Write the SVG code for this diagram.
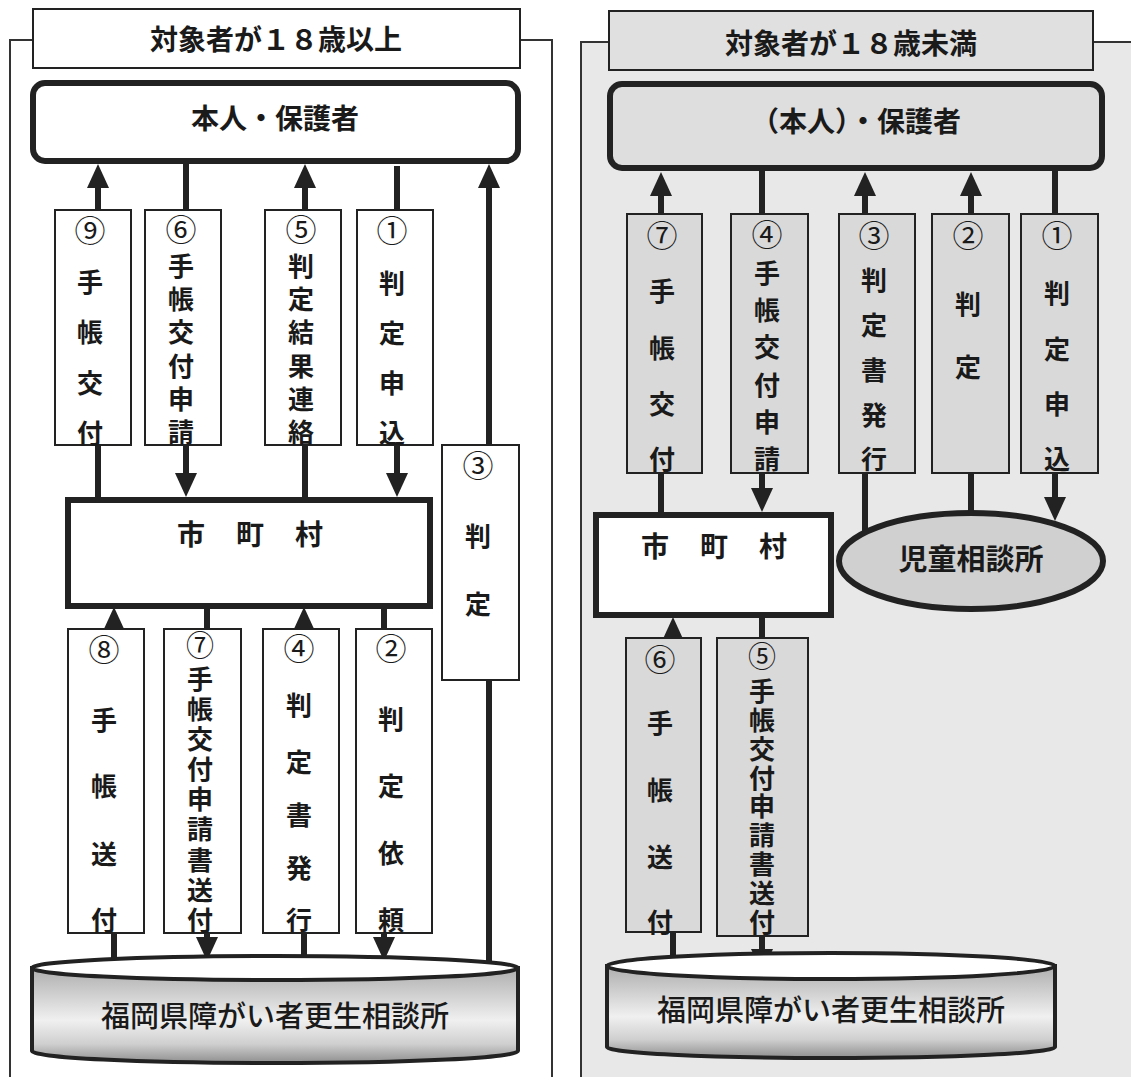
<svg xmlns="http://www.w3.org/2000/svg" width="1131" height="1077" viewBox="0 0 1131 1077">
<style>
.t{font-family:"Noto Sans CJK JP","Noto Sans CJK SC",sans-serif;font-weight:bold;fill:#1a1a1a;text-anchor:middle;dominant-baseline:central}
.bx{font-size:26px}
.cn{font-size:31px;font-weight:normal}
.cs{font-size:28px}
.big{font-size:28px}
.cyl{font-size:29px;font-weight:500}
.box{stroke:#222;stroke-width:2}
.lb{fill:#fff}
.rb{fill:#d9d9d9}
.main{stroke:#222;stroke-width:6}
.conn line{stroke:#222;stroke-width:6}
.frame{fill:none;stroke:#333;stroke-width:2}
</style>
<defs>
<marker id="ah" viewBox="0 0 24 22" refX="12" refY="11" markerWidth="24" markerHeight="22" markerUnits="userSpaceOnUse" orient="auto">
<path d="M0,0 L24,11 L0,22 z" fill="#222"/>
</marker>
<linearGradient id="cg" x1="0" y1="0" x2="0" y2="1">
<stop offset="0" stop-color="#aeaeae"/>
<stop offset="0.55" stop-color="#f0f0f0"/>
<stop offset="0.8" stop-color="#cfcfcf"/>
<stop offset="1" stop-color="#8e8e8e"/>
</linearGradient>
</defs>

<!-- backgrounds / frames -->
<rect x="0" y="0" width="1131" height="1077" fill="#fff"/>
<rect x="581" y="42" width="550" height="1035" fill="#e8e8e8"/>
<path class="frame" d="M33,40 H10 V1077 M520,40 H552 V1077"/>
<path class="frame" d="M609,42 H581 V1077 M1093,42 H1131"/>

<g id="title-left">
<rect x="33" y="9" width="487" height="59" fill="#fff" class="box"/>
<text class="t big" x="276" y="38">対象者が１８歳以上</text>
</g>
<g id="title-right">
<rect x="609" y="11" width="484" height="59" fill="#e0e0e0" class="box"/>
<text class="t big" x="851" y="42">対象者が１８歳未満</text>
</g>

<!-- connectors -->
<g id="connectors" class="conn">
<line x1="98" y1="497" x2="98" y2="176" marker-end="url(#ah)"/>
<line x1="186" y1="163" x2="186" y2="485" marker-end="url(#ah)"/>
<line x1="305" y1="497" x2="305" y2="176" marker-end="url(#ah)"/>
<line x1="397" y1="166" x2="397" y2="485" marker-end="url(#ah)"/>
<line x1="489" y1="963" x2="489" y2="176" marker-end="url(#ah)"/>
<line x1="114" y1="958" x2="114" y2="619" marker-end="url(#ah)"/>
<line x1="207" y1="607" x2="207" y2="949" marker-end="url(#ah)"/>
<line x1="304" y1="956" x2="304" y2="619" marker-end="url(#ah)"/>
<line x1="384" y1="607" x2="384" y2="949" marker-end="url(#ah)"/>

<line x1="661" y1="514" x2="661" y2="184" marker-end="url(#ah)"/>
<line x1="762" y1="170" x2="762" y2="500" marker-end="url(#ah)"/>
<line x1="865" y1="531" x2="865" y2="184" marker-end="url(#ah)"/>
<line x1="971" y1="511" x2="971" y2="184" marker-end="url(#ah)"/>
<line x1="1055" y1="170" x2="1055" y2="509" marker-end="url(#ah)"/>
<line x1="673" y1="958" x2="673" y2="629" marker-end="url(#ah)"/>
<line x1="762" y1="617" x2="762" y2="961" marker-end="url(#ah)"/>
</g>

<!-- left panel nodes -->
<g id="person-left">
<rect x="33" y="83" width="485" height="78" rx="12" fill="#fff" class="main"/>
<text class="t big" x="275" y="117">本人・保護者</text>
</g>
<g id="city-left">
<rect x="68" y="500" width="362" height="106" fill="#fff" class="main"/>
<text class="t big" x="191 250 309" y="533">市町村</text>
</g>
<g id="center-left">
<path d="M32,968 V1051 A243,12 0 0 0 518,1051 V968 Z" fill="url(#cg)" stroke="#222" stroke-width="4"/>
<ellipse cx="275" cy="968" rx="243" ry="12" fill="#fff" stroke="#222" stroke-width="4"/>
<text class="t cyl" x="275" y="1014">福岡県障がい者更生相談所</text>
</g>

<g id="L9"><rect x="55" y="210" width="76" height="235" class="box lb"/>
<text class="t bx" x="90 90 90 90 90" y="228 280 330 381 431"><tspan class="cn">⑨</tspan>手帳交付</text></g>
<g id="L6"><rect x="145" y="210" width="76" height="235" class="box lb"/>
<text class="t bx" x="181 181 181 181 181 181 181" y="227 264 297 330 364 397 430"><tspan class="cn">⑥</tspan>手帳交付申請</text></g>
<g id="L5"><rect x="265" y="210" width="76" height="235" class="box lb"/>
<text class="t bx" x="301 301 301 301 301 301 301" y="227 264 297 330 364 397 430"><tspan class="cn">⑤</tspan>判定結果連絡</text></g>
<g id="L1"><rect x="357" y="210" width="76" height="235" class="box lb"/>
<text class="t bx" x="392 392 392 392 392" y="228 281 331 381 431"><tspan class="cn">①</tspan>判定申込</text></g>
<g id="L3"><rect x="442" y="445" width="77" height="235" class="box lb"/>
<text class="t bx" x="478 478 478" y="463 534 602"><tspan class="cn">③</tspan>判定</text></g>

<g id="L8"><rect x="68" y="629" width="76" height="304" class="box lb"/>
<text class="t bx" x="104 104 104 104 104" y="647 718 784 852 918"><tspan class="cn">⑧</tspan>手帳送付</text></g>
<g id="L7"><rect x="164" y="629" width="77" height="304" class="box lb"/>
<text class="t bx" x="200 200 200 200 200 200 200 200 200 200" y="644 677 707 737 767 797 827 858 888 918"><tspan class="cn cs">⑦</tspan>手帳交付申請書送付</text></g>
<g id="L4"><rect x="263" y="629" width="76" height="304" class="box lb"/>
<text class="t bx" x="299 299 299 299 299 299" y="646 703 760 813 866 918"><tspan class="cn">④</tspan>判定書発行</text></g>
<g id="L2"><rect x="356" y="629" width="76" height="304" class="box lb"/>
<text class="t bx" x="391 391 391 391 391" y="646 717 784 851 918"><tspan class="cn">②</tspan>判定依頼</text></g>

<!-- right panel nodes -->
<g id="person-right">
<rect x="610" y="84" width="492" height="84" rx="12" fill="#dedede" class="main"/>
<text class="t big" x="856" y="120">（本人）・保護者</text>
</g>
<g id="city-right">
<rect x="596" y="515" width="235" height="100" fill="#fff" class="main"/>
<text class="t big" x="655 714 773" y="545">市町村</text>
</g>
<g id="jido">
<ellipse cx="971" cy="561" rx="132" ry="48" fill="#d0d0d0" class="main"/>
<text class="t big" x="971" y="557" style="font-size:29px">児童相談所</text>
</g>
<g id="center-right">
<path d="M607,966 V1047 A224,11 0 0 0 1055,1047 V966 Z" fill="url(#cg)" stroke="#222" stroke-width="4"/>
<ellipse cx="831" cy="966" rx="224" ry="13" fill="#fff" stroke="#222" stroke-width="4"/>
<text class="t cyl" x="831" y="1008">福岡県障がい者更生相談所</text>
</g>

<g id="R7"><rect x="627" y="214" width="75" height="259" class="box rb"/>
<text class="t bx" x="662 662 662 662 662" y="233 289 346 402 457"><tspan class="cn">⑦</tspan>手帳交付</text></g>
<g id="R4"><rect x="731" y="214" width="77" height="259" class="box rb"/>
<text class="t bx" x="767 767 767 767 767 767 767" y="232 271 308 345 383 420 457"><tspan class="cn">④</tspan>手帳交付申請</text></g>
<g id="R3"><rect x="839" y="214" width="76" height="259" class="box rb"/>
<text class="t bx" x="874 874 874 874 874 874" y="233 278 323 368 413 457"><tspan class="cn">③</tspan>判定書発行</text></g>
<g id="R2"><rect x="932" y="214" width="77" height="259" class="box rb"/>
<text class="t bx" x="968 968 968" y="233 302 365"><tspan class="cn">②</tspan>判定</text></g>
<g id="R1"><rect x="1021" y="214" width="77" height="259" class="box rb"/>
<text class="t bx" x="1057 1057 1057 1057 1057" y="233 291 347 402 457"><tspan class="cn">①</tspan>判定申込</text></g>

<g id="R6"><rect x="626" y="638" width="75" height="294" class="box rb"/>
<text class="t bx" x="660 660 660 660 660" y="657 721 788 855 920"><tspan class="cn">⑥</tspan>手帳送付</text></g>
<g id="R5"><rect x="717" y="638" width="91" height="298" class="box rb"/>
<text class="t bx" x="762 762 762 762 762 762 762 762 762 762" y="655 689 718 747 776 804 833 862 891 920"><tspan class="cn cs">⑤</tspan>手帳交付申請書送付</text></g>
</svg>
